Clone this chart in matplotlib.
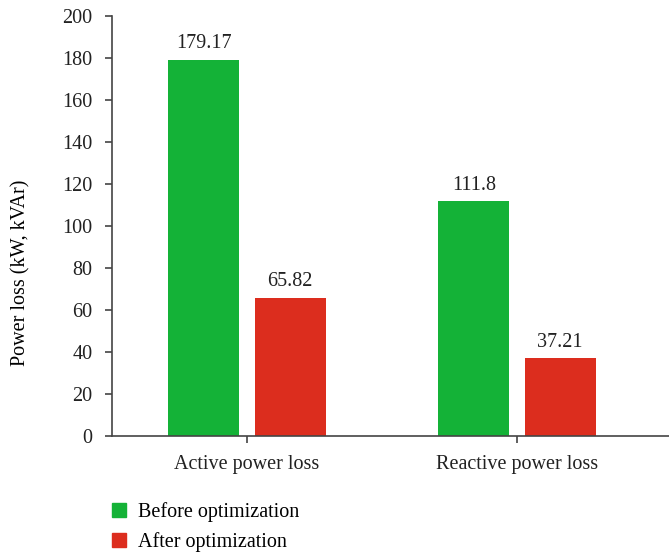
import numpy as np
import matplotlib.pyplot as plt
from matplotlib.patches import Patch

categories = ['Active power loss', 'Reactive power loss']
before = [179.17, 111.8]
after = [65.82, 37.21]
before_labels = ['179.17', '111.8']
after_labels = ['65.82', '37.21']
yticks = [0, 20, 40, 60, 80, 100, 120, 140, 160, 180, 200]

green = '#14b237'
red = '#dc2d1e'

plt.rcParams['font.family'] = ['Liberation Serif', 'DejaVu Serif']
plt.rcParams['font.size'] = 14.5

fig = plt.figure(figsize=(6.69, 5.59), dpi=100)
ax = fig.add_axes([112 / 669, 1 - 436 / 559, (669 - 112) / 669, (436 - 16) / 559])

x = np.arange(len(categories))
w = 0.263
off = 0.16
b1 = ax.bar(x - off, before, w, color=green)
b2 = ax.bar(x + off, after, w, color=red)

for rect, lab in zip(b1, before_labels):
    ax.text(rect.get_x() + rect.get_width() / 2, rect.get_height() + 3, lab,
            ha='center', va='bottom', fontsize=14.5, color='#222222')
for rect, lab in zip(b2, after_labels):
    ax.text(rect.get_x() + rect.get_width() / 2, rect.get_height() + 3, lab,
            ha='center', va='bottom', fontsize=14.5, color='#222222')

ax.set_xlim(-0.5, 1.563)
ax.set_ylim(0, 200)
ax.set_yticks(yticks)
ax.set_xticks(x)
ax.set_xticklabels(categories)
ax.set_ylabel('Power loss (kW, kVAr)')
ax.yaxis.set_label_coords(-0.147, 0.388)

for s in ['top', 'right']:
    ax.spines[s].set_visible(False)
for s in ['left', 'bottom']:
    ax.spines[s].set_color('#444444')
    ax.spines[s].set_linewidth(1.2)
ax.tick_params(axis='y', length=5, width=1.2, color='#444444', labelcolor='#222222', pad=9)
ax.tick_params(axis='x', length=5, width=1.2, color='#444444', labelcolor='#222222', pad=9)

handles = [Patch(color=green, label='Before optimization'),
           Patch(color=red, label='After optimization')]
fig.legend(handles=handles, loc='upper left', bbox_to_anchor=(94 / 669, 1 - 484 / 559),
           frameon=False, handlelength=0.7, handleheight=0.7, handletextpad=0.6,
           labelspacing=0.5, fontsize=14.5)

fig.savefig('out.png', dpi=100)
